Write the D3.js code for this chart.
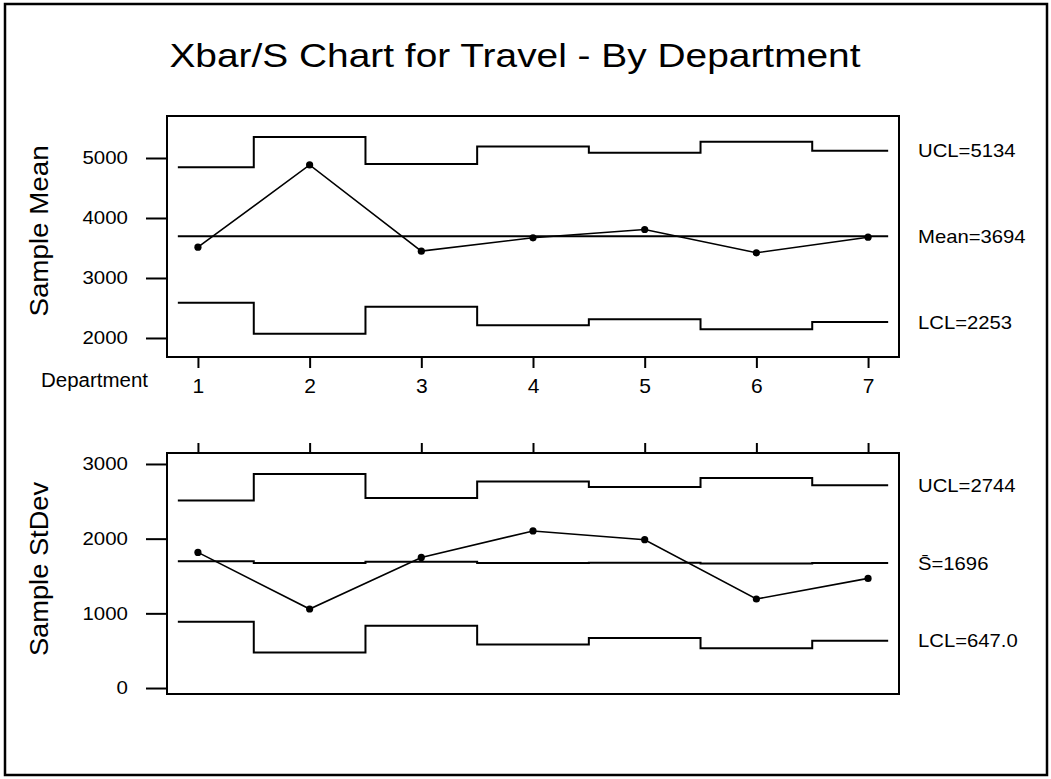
<!DOCTYPE html>
<html>
<head>
<meta charset="utf-8">
<script src="https://cdn.jsdelivr.net/npm/d3@7"></script>
<style>
  html, body { margin: 0; padding: 0; background: #fff; }
  svg { display: block; }
  text { font-family: "Liberation Sans", Arial, Helvetica, sans-serif; fill: #000; }
</style>
</head>
<body>
<svg id="chart" width="1051" height="779"></svg>
<script>
// ---- Data ----
const departments = [1, 2, 3, 4, 5, 6, 7];
const xbarValues  = [3513, 4885, 3447, 3670, 3808, 3420, 3680];
const xbarUCL     = [4844, 5349, 4900, 5193, 5088, 5271, 5121];
const xbarLCL     = [2589, 2072, 2522, 2211, 2311, 2145, 2266];
const xbarCenter  = [3694, 3694, 3694, 3694, 3694, 3694, 3694];
const sValues     = [1816, 1058, 1749, 2103, 1986, 1192, 1468];
const sUCL        = [2512, 2866, 2545, 2767, 2692, 2812, 2714];
const sCenter     = [1696, 1674, 1691, 1674, 1676, 1668, 1675];
const sLCL        = [888, 477, 834, 584, 670, 531, 634];
const xbarTicks   = [2000, 3000, 4000, 5000];
const sTicks      = [0, 1000, 2000, 3000];
const xbarLimitLabels = ["UCL=5134", "Mean=3694", "LCL=2253"];
const sLimitLabels    = ["UCL=2744", "S\u0304=1696", "LCL=647.0"];
const titleText = "Xbar/S Chart for Travel - By Department";
const xAxisTitle = "Department";
const yTitleTop = "Sample Mean";
const yTitleBottom = "Sample StDev";

// ---- Layout ----
const svg = d3.select("#chart");
const FONT = '"Liberation Sans", Arial, Helvetica, sans-serif';

function stretch(sel, k) {
  sel.each(function () {
    const n = this.getComputedTextLength();
    this.setAttribute("textLength", (n * k).toFixed(1));
    this.setAttribute("lengthAdjust", "spacingAndGlyphs");
  });
  return sel;
}

// outer border
svg.append("rect")
  .attr("x", 5).attr("y", 4).attr("width", 1042).attr("height", 771)
  .attr("fill", "none").attr("stroke", "#000").attr("stroke-width", 2.5);

// title
stretch(svg.append("text")
  .attr("x", 515).attr("y", 67)
  .attr("text-anchor", "middle")
  .style("font-size", "33.5px")
  .text(titleText), 1.16);

const x = d3.scaleLinear().domain([0.723, 7.277]).range([167, 899]);
const yTop = d3.scaleLinear().domain([1683, 5700]).range([357, 116]);
const yBot = d3.scaleLinear().domain([-80, 3147]).range([694, 453]);

const stepStart = 0.82, stepEnd = 7.18;
function stepPoints(vals) {
  const pts = [];
  vals.forEach((v, i) => {
    const d = departments[i];
    const a = i === 0 ? stepStart : d - 0.5;
    const b = i === vals.length - 1 ? stepEnd : d + 0.5;
    pts.push([a, v], [b, v]);
  });
  return pts;
}

function panel(cfg) {
  const g = svg.append("g");
  const y = cfg.y;
  const [top, bottom] = [y.range()[1], y.range()[0]];

  // y axis
  const yAxis = d3.axisLeft(y).tickValues(cfg.ticks).tickSize(21).tickPadding(18).tickFormat(d3.format("d"));
  const ga = g.append("g").attr("transform", "translate(167,0)").call(yAxis);
  ga.select(".domain").remove();
  ga.selectAll(".tick line").attr("stroke", "#000").attr("stroke-width", 2);
  ga.selectAll(".tick text").style("font-size", "18.6px").attr("font-family", FONT).attr("fill", "#000");
  stretch(ga.selectAll(".tick text"), 1.1);

  // x axis ticks
  if (cfg.xBottom) {
    const xAxis = d3.axisBottom(x).tickValues(departments).tickSize(11).tickPadding(10).tickFormat(d3.format("d"));
    const gx = g.append("g").attr("transform", `translate(0,${bottom})`).call(xAxis);
    gx.select(".domain").remove();
    gx.selectAll(".tick line").attr("stroke", "#000").attr("stroke-width", 2);
    gx.selectAll(".tick text").style("font-size", "21px").attr("font-family", FONT).attr("fill", "#000");
  } else {
    const xAxis = d3.axisTop(x).tickValues(departments).tickSize(10).tickFormat(() => "");
    const gx = g.append("g").attr("transform", `translate(0,${top})`).call(xAxis);
    gx.select(".domain").remove();
    gx.selectAll(".tick line").attr("stroke", "#000").attr("stroke-width", 2);
  }

  // frame
  g.append("rect")
    .attr("x", 167).attr("y", top).attr("width", 899 - 167).attr("height", bottom - top)
    .attr("fill", "none").attr("stroke", "#000").attr("stroke-width", 2);

  const line = d3.line().x(d => x(d[0])).y(d => y(d[1]));
  [cfg.ucl, cfg.center, cfg.lcl].forEach(vals => {
    g.append("path").attr("d", line(stepPoints(vals)))
      .attr("fill", "none").attr("stroke", "#000").attr("stroke-width", 2);
  });

  // data line + points
  const pts = cfg.values.map((v, i) => [departments[i], v]);
  g.append("path").attr("d", line(pts))
    .attr("fill", "none").attr("stroke", "#000").attr("stroke-width", 1.6);
  g.selectAll("circle.pt").data(pts).enter().append("circle")
    .attr("class", "pt")
    .attr("cx", d => x(d[0])).attr("cy", d => y(d[1])).attr("r", 3.6)
    .attr("fill", "#000");

  // limit labels
  const last = [cfg.ucl, cfg.center, cfg.lcl].map(a => a[a.length - 1]);
  const lbl = g.selectAll("text.lim").data(cfg.labels).enter().append("text")
    .attr("class", "lim")
    .attr("x", 918)
    .attr("y", (d, i) => y(last[i]))
    .attr("dy", "0.36em")
    .style("font-size", "18.6px")
    .text(d => d);
  stretch(lbl, 1.09);

  // y title
  stretch(g.append("text")
    .attr("transform", `translate(48,${cfg.titleY}) rotate(-90)`)
    .attr("text-anchor", "middle")
    .style("font-size", "25px")
    .text(cfg.title), cfg.titleK);
}

panel({ y: yTop, ticks: xbarTicks, values: xbarValues, ucl: xbarUCL, center: xbarCenter,
        lcl: xbarLCL, labels: xbarLimitLabels, xBottom: true, title: yTitleTop, titleY: 231, titleK: 1.11 });
panel({ y: yBot, ticks: sTicks, values: sValues, ucl: sUCL, center: sCenter,
        lcl: sLCL, labels: sLimitLabels, xBottom: false, title: yTitleBottom, titleY: 569, titleK: 1.09 });

// "Department" label
svg.append("text")
  .attr("x", 41).attr("y", 387)
  .style("font-size", "20px")
  .attr("textLength", 107).attr("lengthAdjust", "spacingAndGlyphs")
  .text(xAxisTitle);
</script>
</body>
</html>
